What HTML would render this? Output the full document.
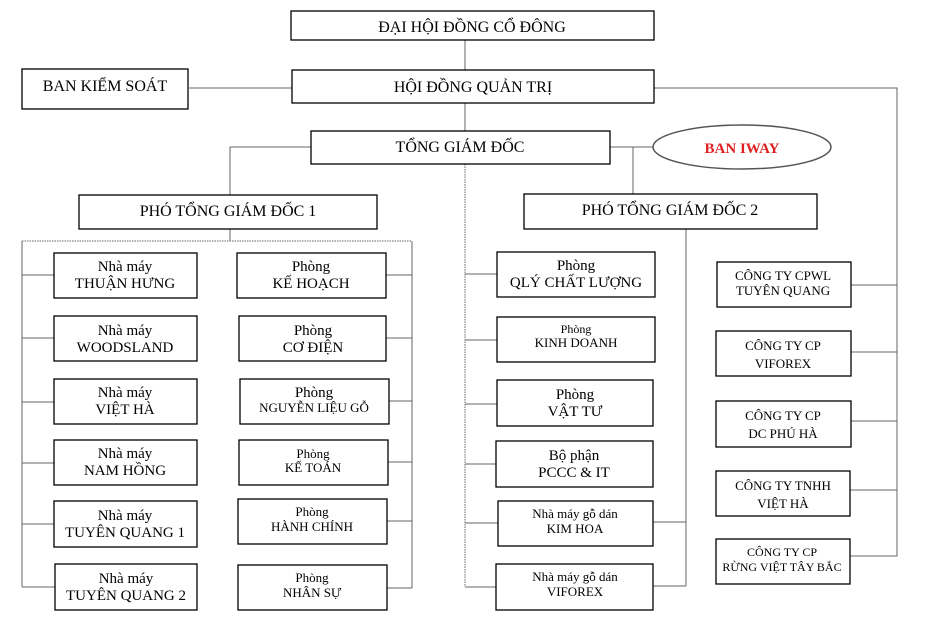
<!DOCTYPE html>
<html><head><meta charset="utf-8"><style>
html,body{margin:0;padding:0;background:#fff;width:933px;height:623px;overflow:hidden}
svg{display:block}
text{font-family:"Liberation Serif",serif;fill:#000;text-anchor:middle}
</style></head><body>
<svg width="933" height="623" viewBox="0 0 933 623" xmlns="http://www.w3.org/2000/svg">
<g stroke="#666" stroke-width="1" fill="none">
<line x1="465" y1="40" x2="465" y2="70"/>
<line x1="465" y1="103" x2="465" y2="131"/>
<line x1="465" y1="164" x2="465" y2="587" stroke-dasharray="1.5,1"/>
<line x1="189" y1="88" x2="292" y2="88"/>
<polyline points="654,88 897,88 897,556 850,556"/>
<polyline points="311,147 230,147 230,195"/>
<line x1="610" y1="147" x2="653" y2="147"/>
<line x1="633" y1="147" x2="633" y2="194"/>
<line x1="230" y1="229" x2="230" y2="241"/>
<line x1="22" y1="241" x2="412" y2="241" stroke-dasharray="1.5,1"/>
<line x1="22" y1="241" x2="22" y2="587"/>
<line x1="412" y1="241" x2="412" y2="588"/>
<line x1="22" y1="275" x2="54" y2="275"/><line x1="22" y1="338" x2="54" y2="338"/>
<line x1="22" y1="402" x2="54" y2="402"/><line x1="22" y1="463" x2="54" y2="463"/>
<line x1="22" y1="524" x2="54" y2="524"/><line x1="22" y1="587" x2="55" y2="587"/>
<line x1="386" y1="275" x2="412" y2="275"/><line x1="386" y1="338" x2="412" y2="338"/>
<line x1="389" y1="401" x2="412" y2="401"/><line x1="388" y1="462" x2="412" y2="462"/>
<line x1="387" y1="521" x2="412" y2="521"/><line x1="387" y1="588" x2="412" y2="588"/>
<line x1="465" y1="274" x2="497" y2="274"/><line x1="465" y1="340" x2="497" y2="340"/>
<line x1="465" y1="404" x2="497" y2="404"/><line x1="465" y1="464" x2="496" y2="464"/>
<line x1="465" y1="523" x2="498" y2="523"/><line x1="465" y1="587" x2="496" y2="587"/>
<line x1="686" y1="229" x2="686" y2="586"/>
<line x1="653" y1="522" x2="686" y2="522"/><line x1="653" y1="586" x2="686" y2="586"/>
<line x1="851" y1="285" x2="897" y2="285"/><line x1="851" y1="352" x2="897" y2="352"/>
<line x1="851" y1="421" x2="897" y2="421"/><line x1="850" y1="490" x2="897" y2="490"/>
<ellipse cx="742" cy="147" rx="89" ry="22" stroke="#555" stroke-width="1.5"/>
</g>
<g stroke="#000" stroke-width="1.3" fill="#fff">
<rect x="291" y="11" width="363" height="29"/>
<rect x="292" y="70" width="362" height="33"/>
<rect x="22" y="69" width="166" height="40"/>
<rect x="311" y="131" width="299" height="33"/>
<rect x="79" y="195" width="298" height="34"/>
<rect x="524" y="194" width="293" height="35"/>
<rect x="54" y="253" width="143" height="45"/><rect x="54" y="316" width="143" height="45"/>
<rect x="54" y="379" width="143" height="45"/><rect x="54" y="440" width="143" height="45"/>
<rect x="54" y="501" width="143" height="46"/><rect x="55" y="564" width="142" height="46"/>
<rect x="237" y="253" width="149" height="45"/><rect x="239" y="316" width="147" height="45"/>
<rect x="240" y="379" width="149" height="45"/><rect x="239" y="440" width="149" height="45"/>
<rect x="238" y="499" width="149" height="45"/><rect x="238" y="565" width="149" height="45"/>
<rect x="497" y="252" width="158" height="45"/><rect x="497" y="317" width="158" height="45"/>
<rect x="497" y="380" width="156" height="46"/><rect x="496" y="441" width="157" height="46"/>
<rect x="498" y="501" width="155" height="45"/><rect x="496" y="564" width="157" height="46"/>
<rect x="717" y="262" width="134" height="45"/><rect x="716" y="331" width="135" height="45"/>
<rect x="716" y="401" width="135" height="46"/><rect x="716" y="471" width="134" height="45"/>
<rect x="716" y="539" width="134" height="45"/>
</g>
<g font-size="16">
<text x="472" y="32">ĐẠI HỘI ĐỒNG CỔ ĐÔNG</text>
<text x="473" y="92">HỘI ĐỒNG QUẢN TRỊ</text>
<text x="105" y="91">BAN KIỂM SOÁT</text>
<text x="460" y="152">TỔNG GIÁM ĐỐC</text>
<text x="228" y="216">PHÓ TỔNG GIÁM ĐỐC 1</text>
<text x="670" y="215">PHÓ TỔNG GIÁM ĐỐC 2</text>
</g>
<text x="742" y="153" font-size="15" font-weight="bold" style="fill:#e02020">BAN IWAY</text>
<g font-size="15">
<text x="125" y="271">Nhà máy</text><text x="125" y="288">THUẬN HƯNG</text>
<text x="125" y="335">Nhà máy</text><text x="125" y="352">WOODSLAND</text>
<text x="125" y="397">Nhà máy</text><text x="125" y="414">VIỆT HÀ</text>
<text x="125" y="458">Nhà máy</text><text x="125" y="475">NAM HỒNG</text>
<text x="125" y="520">Nhà máy</text><text x="125" y="537">TUYÊN QUANG 1</text>
<text x="126" y="583">Nhà máy</text><text x="126" y="600">TUYÊN QUANG 2</text>
<text x="311" y="271">Phòng</text><text x="311" y="288">KẾ HOẠCH</text>
<text x="313" y="335">Phòng</text><text x="313" y="352">CƠ ĐIỆN</text>
<text x="314" y="397">Phòng</text>
<text x="576" y="270">Phòng</text><text x="576" y="287">QLÝ CHẤT LƯỢNG</text>
<text x="575" y="399">Phòng</text><text x="575" y="416">VẬT TƯ</text>
<text x="574" y="460">Bộ phận</text><text x="574" y="477">PCCC &amp; IT</text>
</g>
<g font-size="13">
<text x="314" y="412">NGUYỄN LIỆU GỖ</text>
<text x="313" y="458">Phòng</text><text x="313" y="472">KẾ TOÁN</text>
<text x="312" y="516">Phòng</text><text x="312" y="531">HÀNH CHÍNH</text>
<text x="312" y="582">Phòng</text><text x="312" y="597">NHÂN SỰ</text>
<text x="576" y="333" font-size="12">Phòng</text><text x="576" y="347">KINH DOANH</text>
<text x="575" y="518">Nhà máy gỗ dán</text><text x="575" y="533">KIM HOA</text>
<text x="575" y="581">Nhà máy gỗ dán</text><text x="575" y="596">VIFOREX</text>
<text x="783" y="280">CÔNG TY CPWL</text><text x="783" y="295">TUYÊN QUANG</text>
<text x="783" y="350">CÔNG TY CP</text><text x="783" y="368">VIFOREX</text>
<text x="783" y="420">CÔNG TY CP</text><text x="783" y="438">DC PHÚ HÀ</text>
<text x="783" y="490">CÔNG TY TNHH</text><text x="783" y="508">VIỆT HÀ</text>
<text x="782" y="556" font-size="12">CÔNG TY CP</text><text x="782" y="571" font-size="12">RỪNG VIỆT TÂY BẮC</text>
</g>
</svg>
</body></html>
